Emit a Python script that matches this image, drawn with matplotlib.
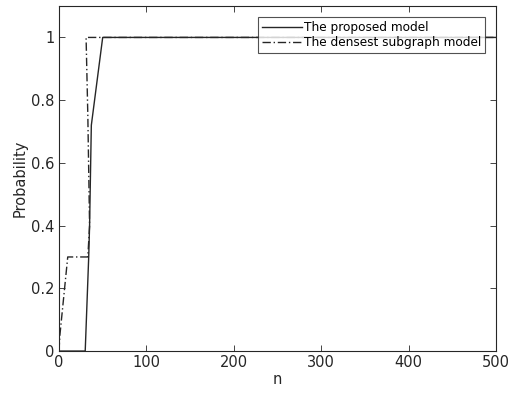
import matplotlib
matplotlib.use("Agg")
import matplotlib.pyplot as plt

# proposed model
n_proposed = [0, 30, 34, 35, 37, 50, 500]
p_proposed = [0, 0, 0.3, 0.4, 0.72, 1.0, 1.0]

# densest subgraph model
n_densest = [0, 1, 10, 33, 35, 33, 31, 50, 500]
p_densest = [0, 0.05, 0.3, 0.3, 0.4, 0.75, 1.0, 1.0, 1.0]

labels = ["The proposed model", "The densest subgraph model"]

plt.rcParams["font.family"] = "DejaVu Sans"
fig = plt.figure(figsize=(5.09, 3.94), dpi=100)
ax = fig.add_axes([0.1159, 0.109, 0.8585, 0.8756])

ax.plot(n_proposed, p_proposed, color="#262626", lw=1.0, label=labels[0])
ax.plot(n_densest, p_densest, color="#262626", lw=1.0,
        linestyle=(0, (6, 2, 1, 2)), label=labels[1])

ax.set_xlim(0, 500)
ax.set_ylim(0, 1.1)
ax.set_xticks([0, 100, 200, 300, 400, 500])
ax.set_yticks([0, 0.2, 0.4, 0.6, 0.8, 1])
ax.set_yticklabels(["0", "0.2", "0.4", "0.6", "0.8", "1"])
ax.tick_params(direction="in", top=True, right=True, labelsize=10.5,
               colors="#262626", length=4, width=0.6, pad=3)
for s in ax.spines.values():
    s.set_color("#262626")
    s.set_linewidth(0.8)

ax.set_xlabel("n", fontsize=10.5, color="#262626", labelpad=1)
ax.set_ylabel("Probability", fontsize=10.5, color="#262626", labelpad=3)

leg = ax.legend(loc="upper right", bbox_to_anchor=(0.975, 0.967), fontsize=8.7,
                frameon=True, fancybox=False, handlelength=3.3,
                handletextpad=0.2, borderpad=0.3, labelspacing=0.2,
                borderaxespad=0)
leg.get_frame().set_edgecolor("#262626")
leg.get_frame().set_linewidth(0.8)

fig.savefig("out.png", dpi=100)
